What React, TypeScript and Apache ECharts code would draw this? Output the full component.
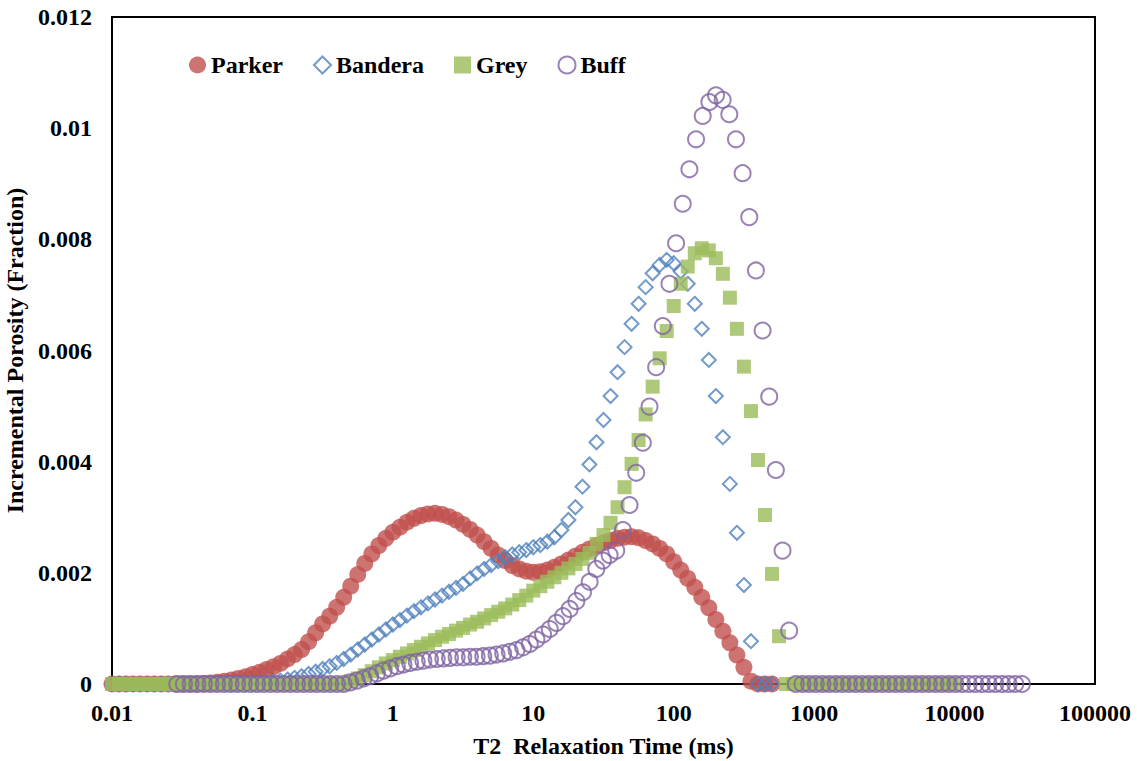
import React, { useEffect, useRef } from "react";
import * as echarts from "echarts";

// T2 sampling grids (log10 of ms)
const GRID_LOG_START = -2; // 0.01 ms
const GRID_LOG_STEP = 0.05;
const BUFF_LOG_START = -1.535;
const BUFF_LOG_STEP = 0.04736;

const xTicks = [0.01, 0.1, 1, 10, 100, 1000, 10000, 100000];
const yTicks = [0, 0.002, 0.004, 0.006, 0.008, 0.01, 0.012];

const parker = [
  0, 0, 0, 0, 0, 0, 0, 0, 0, 0,
  0, 0, 0, 0.00001, 0.00002, 0.00003, 0.00005, 0.00007, 0.0001, 0.00013,
  0.00017, 0.00021, 0.00026, 0.00031, 0.00037, 0.00045, 0.00053, 0.00062, 0.00076, 0.00092,
  0.00108, 0.00122, 0.00138, 0.00156, 0.00176, 0.00197, 0.00217, 0.00234, 0.00249, 0.00262,
  0.00273, 0.00282, 0.00291, 0.00298, 0.00303, 0.00306, 0.00307, 0.00305, 0.00301, 0.00295,
  0.00287, 0.00278, 0.00268, 0.00256, 0.00244, 0.00232, 0.00222, 0.00213, 0.00207, 0.00203,
  0.00201, 0.00202, 0.00205, 0.0021, 0.00216, 0.00223, 0.0023, 0.00237, 0.00243, 0.00249,
  0.00254, 0.00258, 0.00262, 0.00264, 0.00265, 0.00263, 0.00258, 0.00252, 0.00244, 0.00234,
  0.0022, 0.00205, 0.0019, 0.00174, 0.00156, 0.00137, 0.00116, 0.00095, 0.00074, 0.00052,
  0.0003, 0.00005, 0, 0, 0,
];

const bandera = [
  0, 0, 0, 0, 0, 0, 0, 0, 0, 0,
  0, 0, 0, 0, 0, 0, 0, 0, 0, 0,
  0, 0, 0.00002, 0.00004, 0.00006, 0.00008, 0.00011, 0.00014, 0.00018, 0.00022,
  0.00027, 0.00032, 0.00038, 0.00045, 0.00053, 0.00062, 0.00071, 0.0008, 0.00089, 0.00098,
  0.00107, 0.00115, 0.00123, 0.00131, 0.00138, 0.00145, 0.00152, 0.00159, 0.00166, 0.00173,
  0.0018, 0.0019, 0.00199, 0.00207, 0.00214, 0.00221, 0.00228, 0.00233, 0.00237, 0.00241,
  0.00246, 0.0025, 0.00256, 0.00264, 0.00277, 0.00295, 0.00318, 0.00355, 0.00395, 0.00435,
  0.00475, 0.00518, 0.00561, 0.00606, 0.00648, 0.00684, 0.00714, 0.00739, 0.00754, 0.00763,
  0.00757, 0.00742, 0.0072, 0.00684, 0.00639, 0.00583, 0.00518, 0.00444, 0.0036, 0.00272,
  0.00178, 0.00077, 0, 0, 0,
];

const grey = [
  0, 0, 0, 0, 0, 0, 0, 0, 0, 0,
  0, 0, 0, 0, 0, 0, 0, 0, 0, 0,
  0, 0, 0, 0, 0, 0, 0, 0, 0, 0,
  0, 0, 0, 0, 0.00005, 0.0001, 0.00016, 0.00023, 0.0003, 0.00037,
  0.00043, 0.00049, 0.00055, 0.00061, 0.00067, 0.00073, 0.00079, 0.00085, 0.0009, 0.00096,
  0.00101, 0.00107, 0.00112, 0.00118, 0.00124, 0.0013, 0.00136, 0.00143, 0.00151, 0.00159,
  0.00168, 0.00176, 0.00184, 0.00192, 0.002, 0.00208, 0.00216, 0.00225, 0.00236, 0.00252,
  0.00268, 0.0029, 0.00318, 0.00354, 0.00396, 0.00439, 0.00485, 0.00535, 0.00586, 0.00635,
  0.0068, 0.0072, 0.00751, 0.00775, 0.00784, 0.0078, 0.00766, 0.00738, 0.00695, 0.00639,
  0.00571, 0.00491, 0.00403, 0.00304, 0.00198, 0.00086, 0, 0, 0, 0,
  0, 0, 0, 0, 0, 0, 0, 0, 0, 0,
  0, 0, 0, 0, 0, 0, 0, 0, 0, 0,
  0,
];

const buff = [
  0, 0, 0, 0, 0, 0, 0, 0, 0, 0,
  0, 0, 0, 0, 0, 0, 0, 0, 0, 0,
  0, 0, 0, 0, 0, 0, 0.00003, 0.00006, 0.0001, 0.00014,
  0.00019, 0.00024, 0.00028, 0.00032, 0.00035, 0.00038, 0.0004, 0.00042, 0.00044, 0.00045,
  0.00046, 0.00047, 0.00048, 0.00048, 0.00049, 0.00049, 0.0005, 0.00051, 0.00053, 0.00055,
  0.00058, 0.00061, 0.00066, 0.00072, 0.0008, 0.00089, 0.00099, 0.0011, 0.00122, 0.00135,
  0.00149, 0.00165, 0.00184, 0.00207, 0.00222, 0.00232, 0.0024, 0.00277, 0.00322, 0.0038,
  0.00434, 0.00499, 0.0057, 0.00644, 0.0072, 0.00793, 0.00864, 0.00926, 0.0098, 0.01022,
  0.01047, 0.01059, 0.01051, 0.01025, 0.0098, 0.00919, 0.0084, 0.00744, 0.00636, 0.00517,
  0.00385, 0.0024, 0.00096, 0, 0, 0, 0, 0, 0, 0,
  0, 0, 0, 0, 0, 0, 0, 0, 0, 0,
  0, 0, 0, 0, 0, 0, 0, 0, 0, 0,
  0, 0, 0, 0, 0, 0, 0, 0,
];

const toPoints = (vals: number[], logStart: number, logStep: number) =>
  vals.map((v, i) => [Math.pow(10, logStart + logStep * i), v]);

const FONT = "Liberation Serif";

export default function App() {
  const ref = useRef<HTMLDivElement>(null);
  useEffect(() => {
    if (!ref.current) return;
    const chart = echarts.init(ref.current, null, { renderer: "svg" });
    const labelStyle = { fontFamily: FONT, fontWeight: "bold" as const, fontSize: 24, color: "#000" };
    chart.setOption({
      animation: false,
      backgroundColor: "#fff",
      grid: {
        left: 112, top: 17, right: 42, bottom: 77,
        outerBoundsMode: "none", containLabel: false,
        show: true, borderColor: "#000", borderWidth: 2, backgroundColor: "transparent",
      },
      legend: {
        left: 184, top: 48, itemWidth: 17, itemHeight: 17, itemGap: 30,
        textStyle: { fontFamily: FONT, fontWeight: "bold", fontSize: 24, color: "#000" },
        data: ["Parker", "Bandera", "Grey", "Buff"],
      },
      xAxis: {
        type: "log", logBase: 10, min: xTicks[0], max: xTicks[xTicks.length - 1], splitNumber: 7,
        name: "T2  Relaxation Time (ms)", nameLocation: "middle", nameGap: 50,
        nameTextStyle: labelStyle,
        axisLine: { show: true, lineStyle: { color: "#000", width: 2 } },
        axisTick: { show: false }, splitLine: { show: false },
        axisLabel: {
          ...labelStyle, margin: 17,
          formatter: (v: number) => String(Number(v.toPrecision(6))),
        },
      },
      yAxis: {
        type: "value", min: yTicks[0], max: yTicks[yTicks.length - 1], interval: 0.002,
        name: "Incremental Porosity (Fraction)", nameLocation: "middle", nameGap: 74,
        nameTextStyle: labelStyle,
        axisLine: { show: true, lineStyle: { color: "#000", width: 2 } },
        axisTick: { show: false }, splitLine: { show: false },
        axisLabel: {
          ...labelStyle, margin: 20,
          formatter: (v: number) => String(Number(v.toFixed(3))),
        },
      },
      series: [
        {
          name: "Parker", type: "scatter", symbol: "circle", symbolSize: 17,
          itemStyle: { color: "#C0504D" },
          data: toPoints(parker, GRID_LOG_START, GRID_LOG_STEP),
        },
        {
          name: "Bandera", type: "scatter", symbol: "diamond", symbolSize: 14,
          itemStyle: { color: "rgba(255,255,255,0)", borderColor: "#4F81BD", borderWidth: 2 },
          data: toPoints(bandera, GRID_LOG_START, GRID_LOG_STEP),
        },
        {
          name: "Grey", type: "scatter", symbol: "rect", symbolSize: 14,
          itemStyle: { color: "#9BBB59" },
          data: toPoints(grey, GRID_LOG_START, GRID_LOG_STEP),
        },
        {
          name: "Buff", type: "scatter", symbol: "circle", symbolSize: 16,
          itemStyle: { color: "rgba(255,255,255,0)", borderColor: "#8064A2", borderWidth: 2 },
          data: toPoints(buff, BUFF_LOG_START, BUFF_LOG_STEP),
        },
      ],
    });
    return () => chart.dispose();
  }, []);
  return (
    <div
      ref={ref}
      style={{ position: "fixed", left: 0, top: 0, width: 1137, height: 761, background: "#fff" }}
    />
  );
}
